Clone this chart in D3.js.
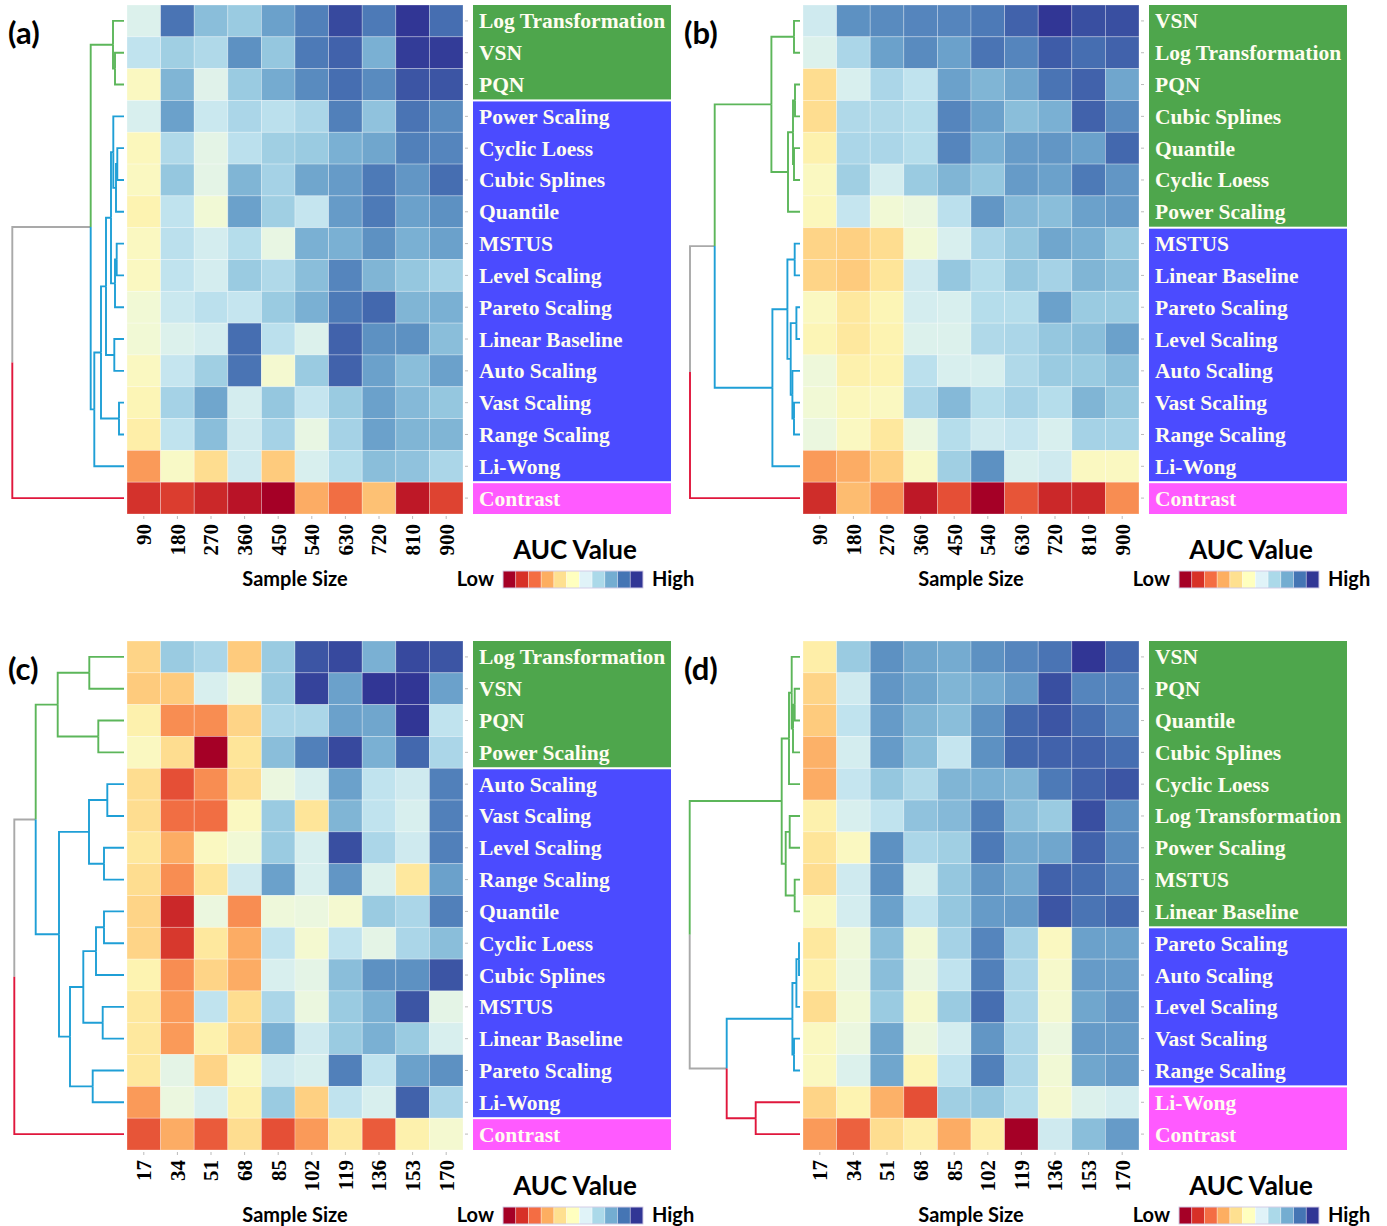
<!DOCTYPE html>
<html>
<head>
<meta charset="utf-8">
<script src="https://cdn.jsdelivr.net/npm/d3@7"></script>
<style>
  body { margin: 0; background: #fff; }
  svg { display: block; }
</style>
</head>
<body>
<svg width="1387" height="1226"></svg>
<script>
// sample sizes (x axis)
const sizesTop = ["90", "180", "270", "360", "450", "540", "630", "720", "810", "900"];
const sizesBottom = ["17", "34", "51", "68", "85", "102", "119", "136", "153", "170"];

// row order of each panel (top to bottom)
const rowsA = ["Log Transformation", "VSN", "PQN", "Power Scaling", "Cyclic Loess", "Cubic Splines", "Quantile", "MSTUS",
  "Level Scaling", "Pareto Scaling", "Linear Baseline", "Auto Scaling", "Vast Scaling", "Range Scaling", "Li-Wong", "Contrast"];
const rowsB = ["VSN", "Log Transformation", "PQN", "Cubic Splines", "Quantile", "Cyclic Loess", "Power Scaling", "MSTUS",
  "Linear Baseline", "Pareto Scaling", "Level Scaling", "Auto Scaling", "Vast Scaling", "Range Scaling", "Li-Wong", "Contrast"];
const rowsC = ["Log Transformation", "VSN", "PQN", "Power Scaling", "Auto Scaling", "Vast Scaling", "Level Scaling", "Range Scaling",
  "Quantile", "Cyclic Loess", "Cubic Splines", "MSTUS", "Linear Baseline", "Pareto Scaling", "Li-Wong", "Contrast"];
const rowsD = ["VSN", "PQN", "Quantile", "Cubic Splines", "Cyclic Loess", "Log Transformation", "Power Scaling", "MSTUS",
  "Linear Baseline", "Pareto Scaling", "Auto Scaling", "Level Scaling", "Vast Scaling", "Range Scaling", "Li-Wong", "Contrast"];

// how many rows fall in the green / blue / magenta cluster
const groupsA = [3, 12, 1];
const groupsB = [7, 8, 1];
const groupsC = [4, 11, 1];
const groupsD = [9, 5, 2];

// relative AUC (0 = low, 1 = high)
const aucA = [
  [0.60, 0.90, 0.76, 0.73, 0.82, 0.88, 0.97, 0.89, 1.00, 0.91],
  [0.66, 0.72, 0.69, 0.85, 0.74, 0.89, 0.93, 0.79, 0.99, 0.99],
  [0.50, 0.78, 0.59, 0.73, 0.80, 0.86, 0.91, 0.86, 0.95, 0.95],
  [0.61, 0.82, 0.64, 0.70, 0.67, 0.70, 0.88, 0.75, 0.90, 0.86],
  [0.49, 0.69, 0.58, 0.67, 0.72, 0.73, 0.79, 0.81, 0.88, 0.87],
  [0.50, 0.74, 0.58, 0.78, 0.71, 0.81, 0.83, 0.89, 0.84, 0.91],
  [0.47, 0.66, 0.54, 0.82, 0.72, 0.65, 0.83, 0.89, 0.82, 0.85],
  [0.50, 0.67, 0.62, 0.68, 0.57, 0.79, 0.79, 0.85, 0.79, 0.82],
  [0.50, 0.66, 0.62, 0.73, 0.69, 0.76, 0.87, 0.78, 0.74, 0.71],
  [0.54, 0.64, 0.67, 0.65, 0.73, 0.79, 0.89, 0.92, 0.78, 0.79],
  [0.54, 0.60, 0.62, 0.91, 0.67, 0.60, 0.93, 0.85, 0.85, 0.76],
  [0.50, 0.65, 0.72, 0.90, 0.53, 0.73, 0.93, 0.82, 0.76, 0.82],
  [0.48, 0.71, 0.81, 0.62, 0.74, 0.65, 0.73, 0.82, 0.77, 0.74],
  [0.45, 0.66, 0.76, 0.63, 0.71, 0.57, 0.71, 0.82, 0.78, 0.78],
  [0.27, 0.51, 0.40, 0.63, 0.36, 0.61, 0.68, 0.76, 0.75, 0.70],
  [0.10, 0.12, 0.08, 0.04, 0.00, 0.30, 0.20, 0.34, 0.05, 0.13]
];
const aucB = [
  [0.63, 0.85, 0.86, 0.87, 0.87, 0.89, 0.93, 1.00, 0.96, 0.96],
  [0.60, 0.70, 0.82, 0.86, 0.82, 0.90, 0.87, 0.94, 0.91, 0.93],
  [0.40, 0.61, 0.70, 0.66, 0.82, 0.78, 0.81, 0.90, 0.93, 0.81],
  [0.40, 0.69, 0.69, 0.68, 0.87, 0.82, 0.76, 0.79, 0.93, 0.86],
  [0.46, 0.70, 0.70, 0.68, 0.87, 0.79, 0.83, 0.84, 0.82, 0.92],
  [0.50, 0.72, 0.62, 0.73, 0.78, 0.74, 0.83, 0.82, 0.89, 0.84],
  [0.49, 0.65, 0.54, 0.56, 0.67, 0.84, 0.77, 0.76, 0.82, 0.83],
  [0.38, 0.37, 0.40, 0.54, 0.61, 0.70, 0.74, 0.81, 0.79, 0.74],
  [0.38, 0.36, 0.42, 0.63, 0.74, 0.68, 0.74, 0.71, 0.78, 0.76],
  [0.50, 0.43, 0.48, 0.62, 0.61, 0.68, 0.68, 0.82, 0.73, 0.73],
  [0.48, 0.43, 0.47, 0.60, 0.60, 0.69, 0.70, 0.74, 0.76, 0.82],
  [0.55, 0.46, 0.47, 0.67, 0.61, 0.61, 0.69, 0.73, 0.73, 0.76],
  [0.54, 0.49, 0.50, 0.70, 0.77, 0.68, 0.71, 0.68, 0.78, 0.74],
  [0.56, 0.50, 0.43, 0.56, 0.68, 0.63, 0.65, 0.61, 0.71, 0.71],
  [0.27, 0.30, 0.37, 0.51, 0.72, 0.85, 0.61, 0.63, 0.50, 0.50],
  [0.09, 0.33, 0.25, 0.05, 0.15, 0.00, 0.16, 0.08, 0.08, 0.25]
];
const aucC = [
  [0.38, 0.73, 0.70, 0.36, 0.73, 0.95, 0.97, 0.79, 0.97, 0.95],
  [0.36, 0.36, 0.61, 0.56, 0.73, 0.98, 0.82, 1.00, 1.00, 0.82],
  [0.46, 0.25, 0.25, 0.38, 0.70, 0.70, 0.82, 0.81, 1.00, 0.66],
  [0.50, 0.40, 0.00, 0.42, 0.76, 0.88, 0.97, 0.79, 0.92, 0.70],
  [0.40, 0.15, 0.25, 0.40, 0.56, 0.61, 0.82, 0.66, 0.63, 0.88],
  [0.40, 0.20, 0.20, 0.50, 0.73, 0.42, 0.78, 0.66, 0.61, 0.88],
  [0.43, 0.30, 0.50, 0.54, 0.73, 0.61, 0.96, 0.70, 0.63, 0.88],
  [0.40, 0.25, 0.42, 0.63, 0.82, 0.61, 0.84, 0.60, 0.43, 0.82],
  [0.38, 0.08, 0.56, 0.25, 0.55, 0.56, 0.53, 0.73, 0.70, 0.88],
  [0.38, 0.11, 0.43, 0.30, 0.66, 0.53, 0.66, 0.58, 0.70, 0.76],
  [0.47, 0.25, 0.38, 0.30, 0.61, 0.58, 0.76, 0.85, 0.85, 0.95],
  [0.43, 0.27, 0.66, 0.40, 0.70, 0.56, 0.73, 0.79, 0.95, 0.58],
  [0.43, 0.27, 0.46, 0.38, 0.79, 0.63, 0.73, 0.79, 0.73, 0.61],
  [0.43, 0.58, 0.38, 0.50, 0.63, 0.61, 0.88, 0.66, 0.82, 0.85],
  [0.27, 0.56, 0.61, 0.46, 0.73, 0.37, 0.66, 0.61, 0.93, 0.70],
  [0.16, 0.30, 0.17, 0.40, 0.15, 0.27, 0.43, 0.17, 0.46, 0.53]
];
const aucD = [
  [0.45, 0.73, 0.85, 0.81, 0.80, 0.85, 0.87, 0.90, 1.00, 0.92],
  [0.38, 0.63, 0.84, 0.81, 0.78, 0.80, 0.83, 0.96, 0.87, 0.87],
  [0.36, 0.66, 0.83, 0.78, 0.76, 0.85, 0.92, 0.95, 0.91, 0.87],
  [0.31, 0.62, 0.83, 0.76, 0.65, 0.85, 0.92, 0.93, 0.93, 0.91],
  [0.30, 0.65, 0.74, 0.69, 0.78, 0.79, 0.78, 0.89, 0.93, 0.95],
  [0.46, 0.61, 0.66, 0.75, 0.77, 0.88, 0.76, 0.73, 0.96, 0.85],
  [0.42, 0.50, 0.85, 0.70, 0.72, 0.89, 0.80, 0.81, 0.93, 0.86],
  [0.40, 0.63, 0.85, 0.61, 0.74, 0.84, 0.80, 0.93, 0.91, 0.87],
  [0.50, 0.62, 0.82, 0.66, 0.74, 0.83, 0.83, 0.95, 0.90, 0.92],
  [0.43, 0.55, 0.76, 0.54, 0.71, 0.87, 0.71, 0.50, 0.82, 0.82],
  [0.46, 0.56, 0.76, 0.56, 0.66, 0.88, 0.70, 0.52, 0.83, 0.83],
  [0.40, 0.54, 0.73, 0.52, 0.73, 0.91, 0.70, 0.53, 0.81, 0.84],
  [0.50, 0.56, 0.81, 0.56, 0.62, 0.84, 0.70, 0.56, 0.83, 0.83],
  [0.50, 0.60, 0.81, 0.48, 0.66, 0.88, 0.70, 0.54, 0.81, 0.83],
  [0.38, 0.47, 0.31, 0.15, 0.72, 0.74, 0.68, 0.53, 0.60, 0.62],
  [0.27, 0.18, 0.40, 0.45, 0.30, 0.45, 0.00, 0.63, 0.76, 0.83]
];

// row dendrograms: [left, right, height], leaves are row indices
const treeA = [[[0, [1, 2, 12], 14],
  [[[[[3, [[4, 5, 9.7], 6, 11], 13.7], [[7, 8, 10.3], 9, 12], 16], [10, 11, 12.7], 21], [12, 13, 8], 26], 14, 32.7],
  36.3], 15, 114.7];
const treeB = [[[[0, 1, 9], [[[2, 3, 8], [4, 5, 9], 10], 6, 15], 31.6],
  [[[7, 8, 8.3], [[9, 10, 6.6], [11, [12, 13, 9], 10.6], 12.3], 15.6], 14, 30.6],
  88.3], 15, 113];
const treeC = [[[[0, 1, 37.7], [2, 3, 28.7], 69.3],
  [[[4, 5, 19.7], [6, 7, 23], 38], [[[[8, 9, 23], 10, 31], [11, 12, 24.3], 43.7], [13, 14, 34.3], 57], 68],
  91.3], 15, 112.7];
const treeD = [[[[0, [[1, 2, 8.3], 3, 10], 11.3], 4, 14], [[5, 6, 13.3], [7, 8, 8.3], 17.3], 21.3],
  [[[[9, 10, 4], 11, 6.6], [12, 13, 9], 10.6], [14, 15, 47.3], 76.3], 113.3];

const boxColors = ["#4ea64c", "#4b4bff", "#ff5aff"];
const treeColors = ["#5cb65a", "#1f9fd6", "#e0173c"];
const treeGray = "#a9a9a9";

const panels = [
  {tag: "(a)", ox: 0, oy: 0, rows: rowsA, sizes: sizesTop, groups: groupsA, auc: aucA, tree: treeA},
  {tag: "(b)", ox: 676, oy: 0, rows: rowsB, sizes: sizesTop, groups: groupsB, auc: aucB, tree: treeB},
  {tag: "(c)", ox: 0, oy: 636, rows: rowsC, sizes: sizesBottom, groups: groupsC, auc: aucC, tree: treeC},
  {tag: "(d)", ox: 676, oy: 636, rows: rowsD, sizes: sizesBottom, groups: groupsD, auc: aucD, tree: treeD}
];

const svg = d3.select("svg");
const color = d3.scaleSequential(d3.interpolateRdYlBu).domain([0, 1]);
const serif = "'Liberation Serif', 'Times New Roman', serif";
const sans = "Lato, 'Open Sans', sans-serif";

panels.forEach(p => {
  const g = svg.append("g").attr("transform", `translate(${p.ox},${p.oy})`);
  const heatL = 127, heatR = 463, top = 5, bottom = 514;

  const x = d3.scaleBand().domain(p.sizes).range([heatL, heatR]);
  const y = d3.scaleBand().domain(d3.range(p.rows.length)).range([top, bottom]);

  // group of each row
  const groupOf = [];
  p.groups.forEach((n, gi) => { for (let k = 0; k < n; k++) groupOf.push(gi); });

  // heatmap cells
  const cells = [];
  p.auc.forEach((row, ri) => row.forEach((v, ci) => cells.push({ri, ci, v})));
  g.append("g").selectAll("rect")
    .data(cells)
    .enter().append("rect")
    .attr("x", d => x(p.sizes[d.ci]))
    .attr("y", d => y(d.ri))
    .attr("width", x.bandwidth())
    .attr("height", y.bandwidth())
    .attr("fill", d => color(d.v))
    .attr("stroke", "rgba(255,255,255,0.35)")
    .attr("stroke-width", 0.8);

  // bottom axis with rotated sample sizes
  const xAxis = g.append("g")
    .attr("transform", `translate(0,${bottom + 2})`)
    .call(d3.axisBottom(x).tickSize(3).tickPadding(6));
  xAxis.select(".domain").remove();
  xAxis.selectAll(".tick line").attr("stroke", "#bbb");
  xAxis.selectAll(".tick text")
    .attr("transform", "rotate(-90)")
    .attr("text-anchor", "end")
    .attr("x", -8)
    .attr("y", 0)
    .attr("dy", "0.35em")
    .style("font-family", serif)
    .style("font-weight", "bold")
    .style("font-size", "21px")
    .attr("fill", "#000");

  // little ticks right of the heatmap
  const yAxis = g.append("g")
    .attr("transform", `translate(${heatR + 2},0)`)
    .call(d3.axisRight(y).tickSize(3).tickFormat(""));
  yAxis.select(".domain").remove();
  yAxis.selectAll(".tick line").attr("stroke", "#bbb");

  // coloured label boxes
  const boxL = 473, boxW = 198;
  let start = 0;
  p.groups.forEach((n, gi) => {
    const y0 = y(start) + (start > 0 ? 1 : 0);
    const y1 = y(start + n - 1) + y.bandwidth() - (start + n < p.rows.length ? 1 : 0);
    g.append("rect")
      .attr("x", boxL).attr("y", y0)
      .attr("width", boxW).attr("height", y1 - y0)
      .attr("fill", boxColors[gi]);
    start += n;
  });
  g.append("g").selectAll("text")
    .data(p.rows)
    .enter().append("text")
    .attr("x", boxL + 6)
    .attr("y", (d, i) => y(i) + y.bandwidth() / 2)
    .attr("dy", "0.35em")
    .style("font-family", serif)
    .style("font-weight", "bold")
    .style("font-size", "21.5px")
    .attr("fill", "#fffdf0")
    .text(d => d);

  // dendrogram
  const root = d3.hierarchy(p.tree, d => Array.isArray(d) ? [d[0], d[1]] : null);
  const hx = d3.scaleLinear().domain([0, 115]).range([heatL, heatL - 115]);
  root.eachAfter(n => {
    if (!n.children) {
      n.py = y(n.data) + y.bandwidth() / 2;
      n.px = heatL - 3;
      n.grp = groupOf[n.data];
    } else {
      n.py = (n.children[0].py + n.children[1].py) / 2;
      n.px = hx(n.data[2]);
      const a = n.children[0].grp, b = n.children[1].grp;
      n.grp = (a === b) ? a : -1;
    }
  });
  g.append("g").selectAll("path")
    .data(root.links())
    .enter().append("path")
    .attr("d", l => `M${l.source.px},${l.source.py}V${l.target.py}H${l.target.px}`)
    .attr("fill", "none")
    .attr("stroke", l => l.target.grp < 0 ? treeGray : treeColors[l.target.grp])
    .attr("stroke-width", 1.9);

  // panel tag
  g.append("text")
    .attr("x", 8).attr("y", 44)
    .style("font-family", sans)
    .style("font-weight", "bold")
    .style("font-size", "31px")
    .text(p.tag);

  // axis title
  g.append("text")
    .attr("x", 295).attr("y", 586)
    .attr("text-anchor", "middle")
    .style("font-family", sans)
    .style("font-weight", "bold")
    .style("font-size", "20px")
    .text("Sample Size");

  // legend
  g.append("text")
    .attr("x", 575).attr("y", 559)
    .attr("text-anchor", "middle")
    .style("font-family", sans)
    .style("font-weight", "bold")
    .style("font-size", "26px")
    .text("AUC Value");
  const swatches = d3.schemeRdYlBu[11];
  const lx = d3.scaleBand().domain(d3.range(swatches.length)).range([503, 643]);
  g.append("g").selectAll("rect")
    .data(swatches)
    .enter().append("rect")
    .attr("x", (d, i) => lx(i))
    .attr("y", 571)
    .attr("width", lx.bandwidth())
    .attr("height", 17)
    .attr("fill", d => d)
    .attr("stroke", "rgba(255,255,255,0.4)")
    .attr("stroke-width", 0.8);
  g.append("rect")
    .attr("x", 503).attr("y", 571).attr("width", 140).attr("height", 17)
    .attr("fill", "none").attr("stroke", "#c8c0e0").attr("stroke-width", 0.8);
  g.append("text")
    .attr("x", 494).attr("y", 586)
    .attr("text-anchor", "end")
    .style("font-family", sans)
    .style("font-weight", "bold")
    .style("font-size", "20px")
    .text("Low");
  g.append("text")
    .attr("x", 652).attr("y", 586)
    .style("font-family", sans)
    .style("font-weight", "bold")
    .style("font-size", "20px")
    .text("High");
});
</script>
</body>
</html>
